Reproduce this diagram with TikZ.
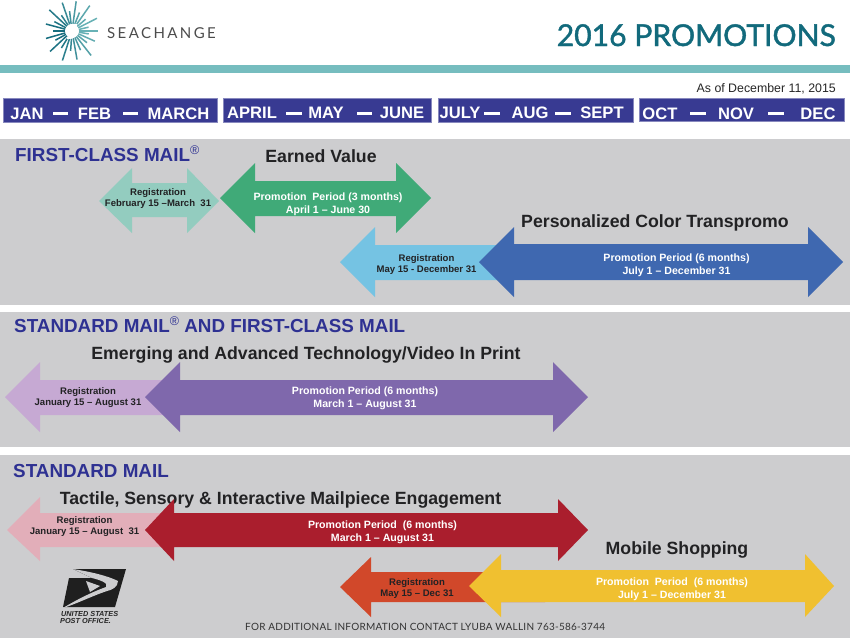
\documentclass[tikz,border=0pt]{standalone}
\usepackage{fontspec}
\setmainfont{Liberation Sans}
\newfontfamily\latofont{Lato}
\newfontfamily\latospaced[LetterSpace=16]{Lato}
\newfontfamily\latofoot[LetterSpace=2.5]{Lato}
\definecolor{band}{HTML}{CDCDCF}
\definecolor{tealbar}{HTML}{76BDBF}
\definecolor{monthblue}{HTML}{383A92}
\definecolor{titleteal}{HTML}{126A7C}
\definecolor{headblue}{HTML}{2E3192}
\definecolor{inkdark}{HTML}{222224}
\definecolor{regteal}{HTML}{93CCBF}
\definecolor{promogreen}{HTML}{40AA78}
\definecolor{reglblue}{HTML}{75C3E3}
\definecolor{promoblue}{HTML}{3F68B0}
\definecolor{reglilac}{HTML}{C6A9D3}
\definecolor{promopurple}{HTML}{7F68AC}
\definecolor{regpink}{HTML}{E2AEB9}
\definecolor{promored}{HTML}{AA1E2D}
\definecolor{regorange}{HTML}{D1482A}
\definecolor{promoyellow}{HTML}{F0C030}
\newcommand{\regmark}{\raisebox{0.36em}{\fontsize{12.5}{12.5}\selectfont\mdseries®}}
\tikzset{
  monthbox/.style={fill=monthblue,draw=monthblue!60!white,line width=0.6pt},
  monthtext/.style={anchor=base,text=white,font=\fontsize{16.6}{17}\selectfont\bfseries,inner sep=0pt},
  monthdash/.style={draw=white,line width=3pt},
  sectionhead/.style={anchor=base west,text=headblue,font=\fontsize{18.85}{19}\selectfont\bfseries,inner sep=0pt},
  promohead/.style={anchor=base,text=inkdark,font=\fontsize{17.7}{18}\selectfont\bfseries,inner sep=0pt},
  regtext/.style={align=center,text=inkdark,font=\fontsize{9.55}{11.5}\selectfont\bfseries,inner sep=0pt},
  promotext/.style={align=center,text=white,font=\fontsize{10.6}{13}\selectfont\bfseries,inner sep=0pt},
  usps/.style={anchor=base west,inner sep=0pt,text=black!85,font=\fontsize{7.3}{7.5}\selectfont\itshape\bfseries},
}
\newcommand{\dblarrowshape}[9]{\fill[#1] (#2,#8) -- (#3,#6) -- (#3,#7) -- (#4,#7) -- (#4,#6) -- (#5,#8) -- (#4,\arrowbot) -- (#4,#9) -- (#3,#9) -- (#3,\arrowbot) -- cycle;}
\begin{document}
\begin{tikzpicture}[x=1pt,y=-1pt]
\useasboundingbox (0,0) rectangle (850,638);
\fill[white] (0,0) rectangle (850,638);
% bands
\fill[band] (0,139) rectangle (850,305);
\fill[band] (0,312) rectangle (850,447);
\fill[band] (0,455) rectangle (850,638);
\fill[tealbar] (0,65) rectangle (850,72.5);
% logo
\foreach \a/\ro/\ri in {0/26/7,13/17/7,27/28/7,41/18/7,55/31/7,68/20/7,82/30/7,97/20/7,109/30/7,124/19/7,137/31/7,152/20/7,165/27/7,180/19/7,196/27/7,209/19/7,223/30/7,238/20/7,252/31/7,266/20/7,280/29/7,294/21/7,308/31/7,322/19/7,336/25/7,350/17/7}{
  \pgfmathsetmacro{\mixv}{55-42*cos(\a-10)}
  \draw[color={titleteal!\mixv!tealbar},line width=1.5pt] ({72+\ri*cos(\a)},{31-\ri*sin(\a)}) -- ({72+\ro*cos(\a)},{31-\ro*sin(\a)});
}
\draw[white,line width=1.8pt] (77,25) .. controls (67,23) and (66,30) .. (72,31) .. controls (78,33) and (76,39) .. (67,38);
\node[anchor=base west,inner sep=0pt,text=black!70,font=\fontsize{15}{15}\selectfont\latospaced] (brand) at (107,38.5) {SEACHANGE};
\node[anchor=base east,inner sep=0pt,text=titleteal,font=\fontsize{30.1}{31}\selectfont\latofont\addfontfeature{FakeBold=1.4}] (title) at (836,46) {2016 PROMOTIONS};
\node[anchor=base east,inner sep=0pt,text=black!85,font=\fontsize{12.35}{12.5}\selectfont] (asof) at (836,92) {As of December 11, 2015};
% month boxes
\fill[monthbox] (3,98.5) rectangle (217,122);
\fill[monthbox] (223,98.5) rectangle (431,122);
\fill[monthbox] (438,98.5) rectangle (633,122);
\fill[monthbox] (639,98) rectangle (844,121);
\node[monthtext] (jan) at (27,119) {JAN};
\node[monthtext] (feb) at (94.5,119) {FEB};
\node[monthtext] (mar) at (178.5,119) {MARCH};
\node[monthtext] (apr) at (252,118) {APRIL};
\node[monthtext] (may) at (326,118) {MAY};
\node[monthtext] (jun) at (402,118) {JUNE};
\node[monthtext] (jul) at (460,118) {JULY};
\node[monthtext] (aug) at (530,118) {AUG};
\node[monthtext] (sep) at (602,118) {SEPT};
\node[monthtext] (oct) at (660,119) {OCT};
\node[monthtext] (nov) at (736,119) {NOV};
\node[monthtext] (dec) at (818,119) {DEC};
\foreach \xa/\xb/\yy in {53/68/113,123/138/113,286/302/113,357/372/113,484/500/113,555/571/113,690/706/113,768/784/113}
  \draw[monthdash] (\xa,\yy) -- (\xb,\yy);
% First-class
\node[sectionhead] (s1) at (15,161) {FIRST-CLASS MAIL\regmark};
\node[promohead] (ev) at (321,162) {Earned Value};
\node[promohead] (pc) at (655,227) {Personalized Color Transpromo};
\def\arrowbot{233}
\dblarrowshape{regteal}{99}{132}{187}{219}{168}{183}{201}{217}
\dblarrowshape{promogreen}{220}{255}{396}{431}{163}{181}{198}{216}
\node[regtext] (r1) at (158,198.5) {Registration\\February 15 –March\ \ 31};
\node[promotext] (p1) at (328,204.5) {Promotion\ \ Period (3 months)\\April 1 – June 30};
\def\arrowbot{297}
\fill[reglblue] (340,262) -- (375,227) -- (375,245) -- (512,245) -- (512,280) -- (375,280) -- (375,297) -- cycle;
\dblarrowshape{promoblue}{479}{514}{808}{843}{227}{244}{262}{280}
\node[regtext] (r2) at (426.5,264.5) {Registration\\May 15 - December 31};
\node[promotext] (p2) at (676.5,265) {Promotion Period (6 months)\\July 1 – December 31};
% Standard + first class
\node[sectionhead] (s2) at (14,332) {STANDARD MAIL\regmark{} AND FIRST-CLASS MAIL};
\node[promohead] (et) at (306,359) {Emerging and Advanced Technology/Video In Print};
\fill[reglilac] (5,397) -- (40,362) -- (40,380) -- (182,380) -- (182,415) -- (40,415) -- (40,432) -- cycle;
\def\arrowbot{432}
\dblarrowshape{promopurple}{145}{180}{553}{588}{362}{380}{397}{415}
\node[regtext] (r3) at (88,397.5) {Registration\\January 15 – August 31};
\node[promotext] (p3) at (365,398) {Promotion Period (6 months)\\March 1 – August 31};
% Standard
\node[sectionhead] (s3) at (13,477) {STANDARD MAIL};
\node[promohead] (tac) at (280.5,504) {Tactile, Sensory \& Interactive Mailpiece Engagement};
\node[promohead] (ms) at (677,554) {Mobile Shopping};
\fill[regpink] (7,530) -- (40,497) -- (40,513) -- (178,513) -- (178,547) -- (40,547) -- (40,561) -- cycle;
\def\arrowbot{561}
\dblarrowshape{promored}{145}{174}{558}{588}{499}{513}{530}{547}
\node[regtext] (r4) at (84.5,526.5) {Registration\\January 15 – August\ \ 31};
\node[promotext] (p4) at (382.5,532.5) {Promotion Period\ \ (6 months)\\March 1 – August 31};
\fill[regorange] (340,587) -- (371,557) -- (371,572) -- (545,572) -- (545,602) -- (371,602) -- (371,617) -- cycle;
\def\arrowbot{617}
\dblarrowshape{promoyellow}{469}{501}{805}{834}{554}{570}{586}{602}
\node[regtext] (r5) at (417,588.5) {Registration\\May 15 – Dec 31};
\node[promotext] (p5) at (672,589.5) {Promotion\ \ Period\ \ (6 months)\\July 1 – December 31};
% USPS
\fill[black!88] (73,569) -- (126,569) -- (115,607) -- (63,607) -- (69,578) -- (92,578) -- cycle;
\fill[band] (73,569) .. controls (92,572) and (108,576) .. (118,581) .. controls (118,587) and (112,590) .. (107,591) .. controls (92,596) and (76,604) .. (63,608) .. controls (76,600) and (92,592) .. (106,587) .. controls (109,583) and (100,580) .. (92,578) -- cycle;
\fill[band] (86,581) -- (100,586) -- (90,592) -- cycle;
\node[usps] (us1) at (61,616) {UNITED STATES};
\node[usps] (us2) at (60,623) {POST OFFICE.};
\node[anchor=base west,inner sep=0pt,text=black!80,font=\fontsize{10}{10}\selectfont\latofoot] (foot) at (245,630.5) {FOR ADDITIONAL INFORMATION CONTACT LYUBA WALLIN 763-586-3744};
\end{tikzpicture}
\end{document}
